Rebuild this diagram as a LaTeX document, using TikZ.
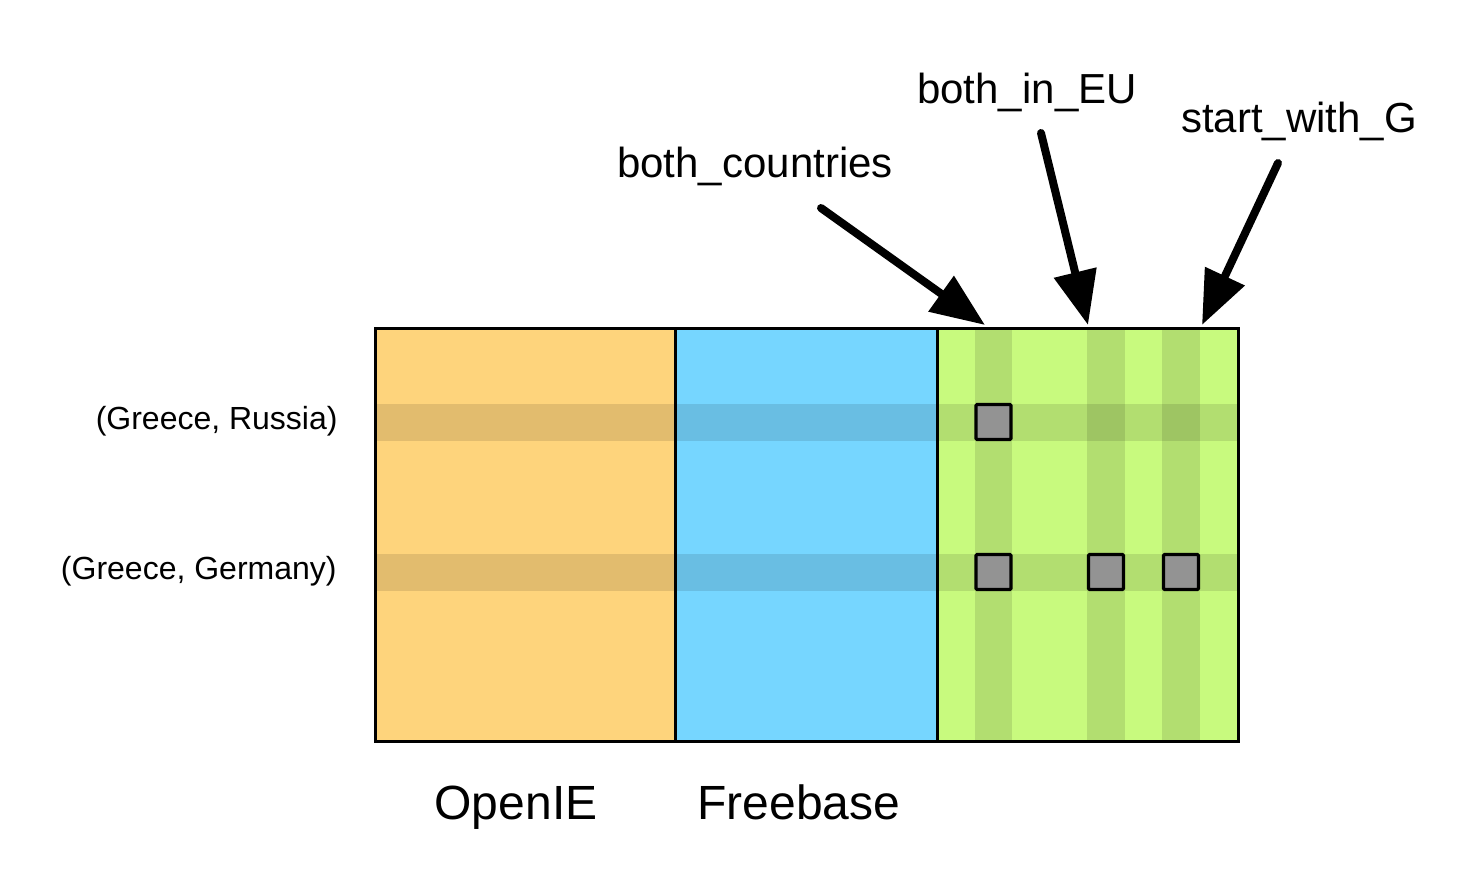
\documentclass[tikz,border=0pt]{standalone}
\usepackage{fontspec}
\setmainfont{Liberation Sans}
\usetikzlibrary{arrows.meta}
\definecolor{oie}{RGB}{254,212,124}
\definecolor{fb}{RGB}{118,214,255}
\definecolor{gr}{RGB}{200,250,126}
\definecolor{sq}{RGB}{147,147,147}
\tikzset{
  panel/.style={draw=black, line width=1.5pt, inner sep=0pt, outer sep=0pt, anchor=north west},
  band/.style={fill=black, fill opacity=0.11, draw=none},
  cell/.style={draw=black, line width=1.6pt, fill=sq, minimum size=17.5pt, inner sep=0pt, rounded corners=0.6pt},
  pointer/.style={line width=4pt, line cap=round, -{Triangle[length=27pt,width=21pt]}},
  lbl/.style={font=\fontsize{21}{24}\selectfont, anchor=base, inner sep=0pt},
  rowlbl/.style={font=\fontsize{16}{19}\selectfont, anchor=base east, inner sep=0pt},
  collbl/.style={font=\fontsize{24}{28}\selectfont, anchor=base, inner sep=0pt}
}
\begin{document}
\begin{tikzpicture}[x=0.5pt,y=-0.5pt]
\useasboundingbox (0,0) rectangle (1479,891);
% panel fills
\fill[oie] (375,328) rectangle (675,741);
\fill[fb] (675,328) rectangle (937,741);
\fill[gr] (937,328) rectangle (1238,741);
% bands
\fill[band] (375,404) rectangle (1238,441);
\fill[band] (375,554) rectangle (1238,591);
\fill[band] (975,328) rectangle (1012,741);
\fill[band] (1087,328) rectangle (1125,741);
\fill[band] (1162,328) rectangle (1200,741);
% panel borders
\node[panel, minimum width=150pt, minimum height=206.5pt] (openie) at (375,328) {};
\node[panel, minimum width=131pt, minimum height=206.5pt] (freebase) at (675,328) {};
\node[panel, minimum width=150.5pt, minimum height=206.5pt] (feat) at (937,328) {};
% cells
\node[cell] (c1) at (993.5,422) {};
\node[cell] (c2) at (993.5,572) {};
\node[cell] (c3) at (1106,572) {};
\node[cell] (c4) at (1181,572) {};
% row labels
\node[rowlbl] (r1) at (338,429) {(Greece, Russia)};
\node[rowlbl] (r2) at (337,579) {(Greece, Germany)};
% column labels
\node[collbl] (l1) at (516,819) {OpenIE};
\node[collbl] (l2) at (799,819) {Freebase};
% feature labels
\node[lbl] (f1) at (755,177) {both\_countries};
\node[lbl] (f2) at (1027,103) {both\_in\_EU};
\node[lbl] (f3) at (1299,132) {start\_with\_G};
% arrows
\coordinate (s1) at (821,208);
\coordinate (s2) at (1041,133);
\coordinate (s3) at (1278,163);
\coordinate (t1) at (985,325);
\coordinate (t2) at (1088,325);
\coordinate (t3) at (1202,325);
\draw[pointer] (s1) -- (t1);
\draw[pointer] (s2) -- (t2);
\draw[pointer] (s3) -- (t3);
\end{tikzpicture}
\end{document}
